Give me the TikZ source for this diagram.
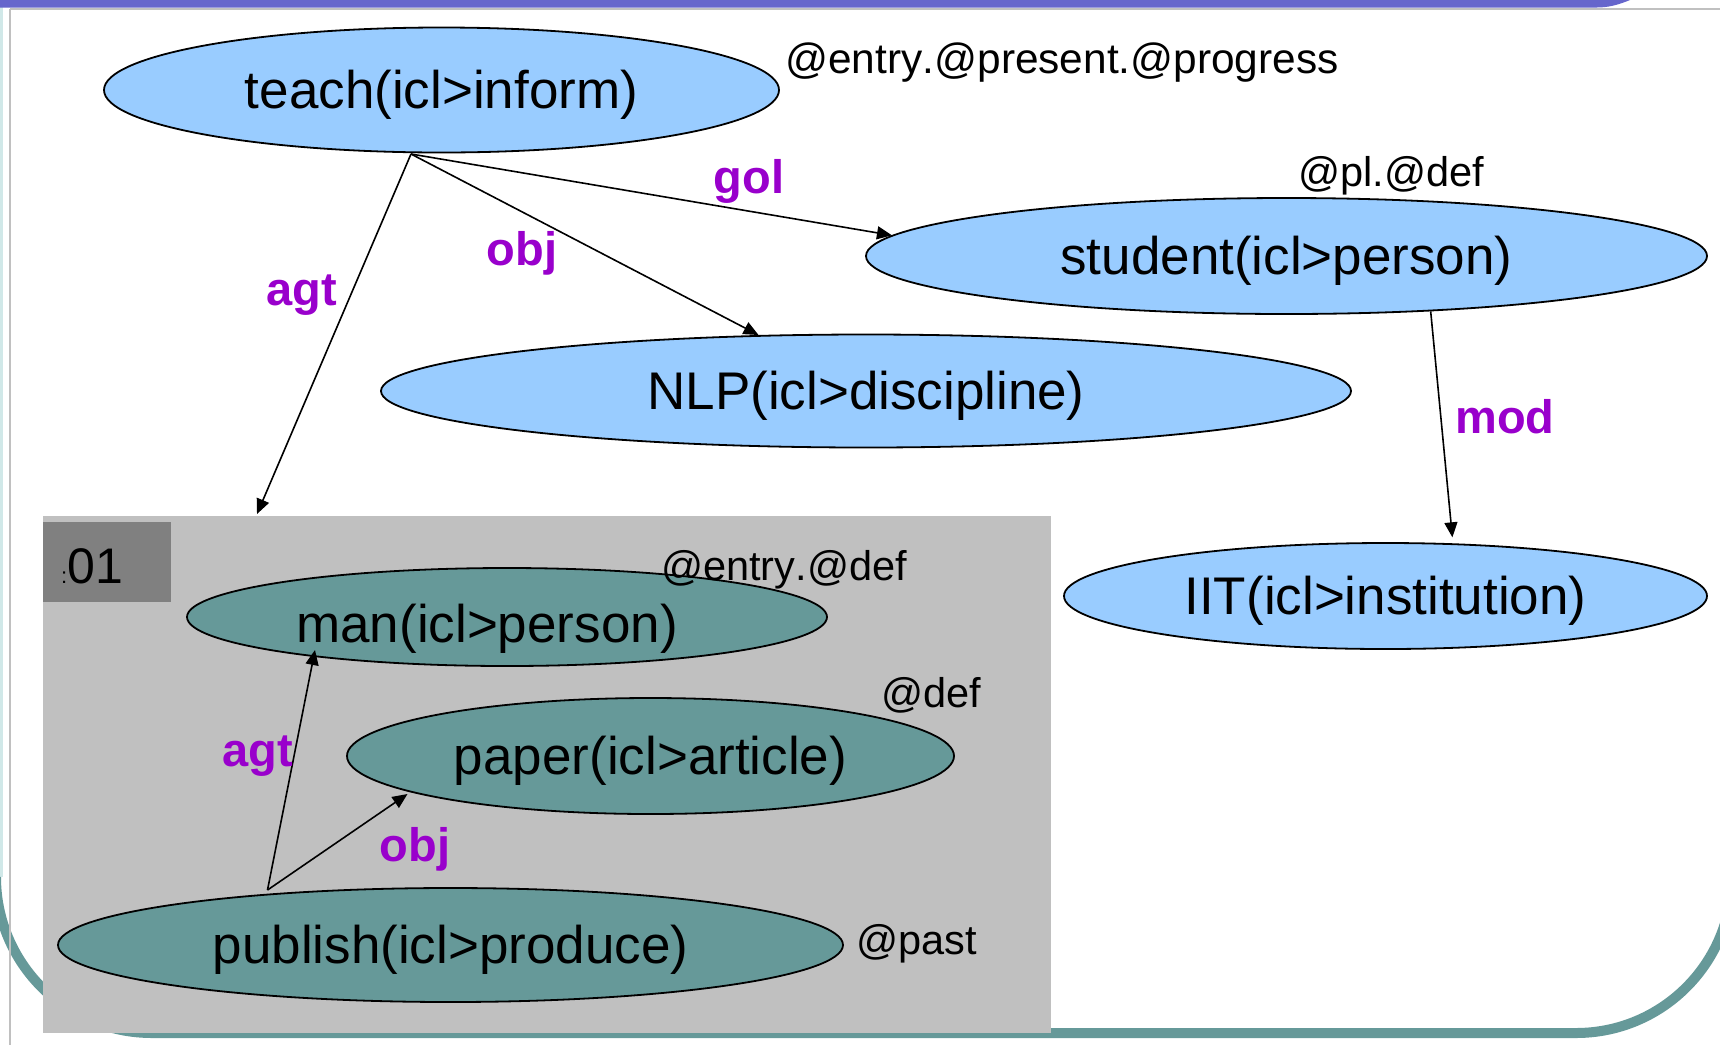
\documentclass[tikz,border=0pt]{standalone}
\usepackage{fontspec}
\setmainfont{Liberation Sans}
\newfontfamily\attrfont{Liberation Sans}[Kerning=Off]
\usetikzlibrary{arrows.meta,calc,shapes.geometric}
\definecolor{skyfill}{HTML}{99CCFF}
\definecolor{tealfill}{HTML}{669999}
\definecolor{boxgray}{HTML}{C0C0C0}
\definecolor{tabgray}{HTML}{808080}
\definecolor{relpurple}{HTML}{9900CC}
\definecolor{barpurple}{HTML}{6666CC}
\definecolor{framegray}{HTML}{C0C0C0}
\definecolor{paleteal}{HTML}{D0E8E8}
\begin{document}
\begin{tikzpicture}[x=1pt,y=-1pt,
  concept/.style={ellipse, draw=black, line width=1.8pt, inner sep=0pt,
    text height=47pt, text depth=11pt, font=\fontsize{53}{60}\selectfont},
  sky/.style={concept, fill=skyfill},
  scoped/.style={concept, fill=tealfill},
  attr/.style={font=\attrfont\fontsize{41.5}{48}\selectfont, inner sep=0pt},
  rel/.style={font=\bfseries\fontsize{47}{54}\selectfont, text=relpurple, inner sep=0pt},
  arr/.style={-{Triangle[length=15pt,width=13pt]}, line width=1.6pt},
]
\useasboundingbox (0,0) rectangle (1720,1045);
\fill[white] (0,0) rectangle (1720,1045);

% slide frame
\draw[paleteal, line width=3pt] (1.5,0) -- (1.5,877);
\draw[tealfill, line width=10pt, rounded corners=156pt]
  (-4,877) -- (-4,1033) -- (1732,1033) -- (1732,877);
\draw[framegray, line width=1.5pt] (10,9) -- (1720,9);
\draw[framegray, line width=1.5pt] (10,9) -- (10,1045);
\fill[barpurple] (0,0) -- (1630,0) .. controls (1618,5) and (1608,7.5) .. (1597,7.5) -- (0,7.5) -- cycle;

% compound scope
\node[fill=boxgray, minimum width=1008pt, minimum height=517pt, inner sep=0pt,
  anchor=north west] (scopebox) at (43,516) {};
\node[fill=tabgray, minimum width=128pt, minimum height=80pt, inner sep=0pt,
  anchor=north west] (tab) at (43,522) {};
\node[anchor=base west, inner sep=0pt, font=\fontsize{50}{56}\selectfont] (tablabel)
  at (61,583) {{\fontsize{22}{26}\selectfont :}01};

% concepts
\node[sky, minimum width=675pt, minimum height=125pt] (teach) at (441.5,90) {teach(icl>inform)};
\node[sky, minimum width=841pt, minimum height=116pt] (student) at (1286.5,256) {student(icl>person)};
\node[sky, minimum width=970pt, minimum height=113pt] (nlp) at (866,391) {NLP(icl>discipline)};
\node[sky, minimum width=643pt, minimum height=106pt] (iit) at (1385.5,596) {IIT(icl>institution)};
\node[scoped, minimum width=640pt, minimum height=98pt] (man) at (507,617) {};
\node[inner sep=0pt, font=\fontsize{53}{60}\selectfont] (mantext) at (487,629) {man(icl>person)};
\node[scoped, minimum width=607pt, minimum height=116pt] (paper) at (650.5,756) {paper(icl>article)};
\node[scoped, minimum width=785pt, minimum height=114pt] (publish) at (450.5,945) {publish(icl>produce)};

% connector ends
\coordinate (tfoot) at ($(teach.center)+(-30.5,64)$);
\coordinate (scopetop) at ($(scopebox.north west)+(214,-2)$);
\coordinate (pubtop) at ($(publish.center)+(-183,-55)$);
\coordinate (manfoot) at ($(man.center)+(-192,33)$);
\coordinate (paperfoot) at ($(paper.center)+(-243,38)$);

% relations
\draw[arr] (tfoot) -- (scopetop);
\draw[arr] (tfoot) -- (nlp);
\draw[arr] (tfoot) -- (student.177);
\draw[arr, shorten >=6pt] (student.-21) -- (iit.38);
\draw[arr] (pubtop) -- (manfoot);
\draw[arr] (pubtop) -- (paperfoot);

% relation labels
\node[rel] (lgol) at (749,181) {gol};
\node[rel] (lobj) at (522,253) {obj};
\node[rel] (lagt) at (302,295) {agt};
\node[rel] (lmod) at (1505,417) {mod};
\node[rel] (lagt2) at (258,756) {agt};
\node[rel] (lobj2) at (415,849) {obj};

% attributes
\node[attr, font=\attrfont\fontsize{42.4}{48}\selectfont] (at1) at (1062,63) {@entry.@present.@progress};
\node[attr] (at2) at (1391,176) {@pl.@def};
\node[attr] (at3) at (784,570) {@entry.@def};
\node[attr] (at4) at (931,695) {@def};
\node[attr] (at5) at (917,944) {@past};
\end{tikzpicture}
\end{document}
